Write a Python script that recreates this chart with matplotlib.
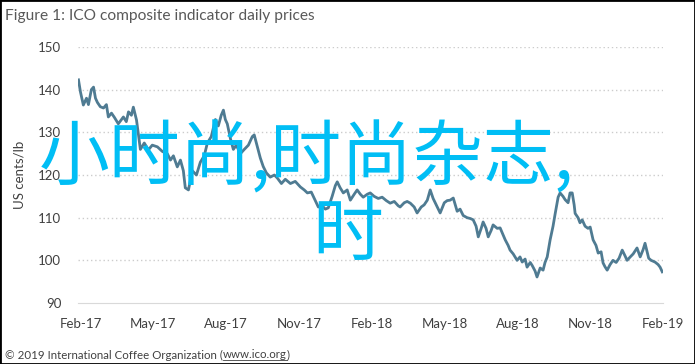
import matplotlib
matplotlib.use("Agg")
import matplotlib.pyplot as plt
from matplotlib.patches import Rectangle

# months since Feb-2017
months = [-0.08, 0.00, 0.12, 0.25, 0.33, 0.45, 0.54, 0.62, 0.70, 0.82, 0.95, 1.07,
          1.15, 1.28, 1.40, 1.56, 1.69, 1.77, 1.89, 1.98, 2.10, 2.18, 2.26, 2.31,
          2.39, 2.47, 2.63, 2.80, 2.96, 3.17, 3.38, 3.58, 3.71, 3.83, 3.99, 4.12,
          4.24, 4.32, 4.45, 4.61, 4.78, 4.94, 5.10, 5.23, 5.39, 5.56, 5.68, 5.80,
          5.89, 5.97, 6.05, 6.18, 6.30, 6.42, 6.59, 6.75, 6.92, 7.08, 7.16, 7.29,
          7.41, 7.53, 7.66, 7.82, 7.99, 8.11, 8.28, 8.44, 8.65, 8.85, 9.06, 9.22,
          9.35, 9.51, 9.67, 9.80, 9.92, 10.09, 10.21, 10.37, 10.50, 10.58, 10.70,
          10.83, 10.99, 11.12, 11.28, 11.40, 11.53, 11.65, 11.82, 11.94, 12.10,
          12.27, 12.43, 12.60, 12.76, 12.93, 13.09, 13.17, 13.34, 13.46, 13.59,
          13.75, 13.87, 14.04, 14.16, 14.29, 14.41, 14.53, 14.66, 14.82, 14.99,
          15.11, 15.23, 15.36, 15.52, 15.64, 15.77, 15.93, 16.06, 16.18, 16.30,
          16.39, 16.51, 16.59, 16.71, 16.80, 16.92, 17.00, 17.17, 17.29, 17.41,
          17.50, 17.62, 17.70, 17.83, 17.99, 18.11, 18.20, 18.32, 18.40, 18.53,
          18.61, 18.73, 18.81, 18.94, 19.06, 19.14, 19.23, 19.35, 19.47, 19.56,
          19.68, 19.76, 19.88, 19.97, 20.09, 20.17, 20.26, 20.34, 20.38, 20.50,
          20.58, 20.67, 20.79, 20.91, 21.00, 21.12, 21.24, 21.33, 21.45, 21.53,
          21.61, 21.70, 21.82, 21.94, 22.07, 22.19, 22.32, 22.44, 22.52, 22.65,
          22.77, 22.93, 23.06, 23.18, 23.26, 23.41, 23.51, 23.67, 23.80, 23.88,
          23.97]

prices = [142.3, 139.5, 136.4, 138.0, 136.5, 140.0, 140.6, 138.0, 137.0, 136.0,
          135.7, 136.5, 133.6, 134.5, 133.5, 132.0, 133.0, 133.6, 132.5, 134.8,
          134.0, 135.9, 134.0, 132.9, 129.5, 126.0, 127.5, 125.9, 127.0, 126.6,
          125.5, 125.0, 123.5, 124.5, 121.9, 123.5, 121.0, 117.0, 116.5, 121.0,
          120.0, 123.0, 124.5, 127.5, 129.0, 133.0, 131.5, 134.0, 135.2, 133.0,
          132.0, 128.5, 126.0, 127.0, 125.0, 126.0, 127.0, 129.0, 129.4, 126.6,
          124.0, 122.0, 120.5, 119.5, 120.0, 119.3, 118.0, 119.0, 118.0, 118.5,
          117.2, 116.5, 115.8, 116.0, 114.1, 112.5, 113.0, 112.0, 112.3, 115.0,
          117.5, 118.4, 117.0, 115.8, 116.5, 114.1, 115.5, 116.5, 115.5, 114.8,
          115.5, 115.8, 115.0, 114.5, 114.8, 114.0, 113.4, 113.8, 112.8, 112.5,
          113.5, 113.8, 113.4, 112.5, 111.1, 112.5, 113.0, 114.1, 116.5, 114.5,
          113.0, 111.1, 113.5, 114.0, 114.1, 114.6, 111.5, 112.0, 110.5, 110.0,
          109.8, 109.5, 108.0, 105.5, 107.5, 109.0, 107.5, 105.5, 107.0, 108.3,
          107.5, 107.6, 106.0, 104.8, 103.5, 102.4, 101.5, 100.0, 100.8, 99.6,
          100.3, 98.4, 99.5, 98.8, 97.5, 96.1, 98.2, 97.7, 99.5, 100.8,
          104.8, 108.0, 111.0, 114.8, 115.8, 115.0, 114.2, 113.5, 115.8, 115.8,
          113.0, 111.0, 110.0, 108.8, 109.5, 108.0, 107.5, 107.8, 104.8, 103.5,
          101.7, 102.0, 99.4, 98.5, 97.7, 99.0, 100.0, 99.5, 100.5, 102.4,
          101.0, 100.0, 100.8, 101.5, 102.9, 100.8, 102.5, 104.0, 100.5, 100.0,
          99.6, 99.0, 98.4, 97.3]

tick_pos = [0, 3, 6, 9, 12, 15, 18, 21, 24]
tick_labels = ["Feb-17", "May-17", "Aug-17", "Nov-17", "Feb-18",
               "May-18", "Aug-18", "Nov-18", "Feb-19"]
y_ticks = [90, 100, 110, 120, 130, 140, 150]

plt.rcParams['font.family'] = ['Lato', 'DejaVu Sans']

W, H = 695, 364
fig = plt.figure(figsize=(W / 100, H / 100), dpi=100)
ax = fig.add_axes([78 / W, 1 - 303 / H, 585 / W, 256 / H])

ax.plot(months, prices, color="#4f7b92", lw=2.0, zorder=3)
ax.set_xlim(-0.1, 24.0)
ax.set_ylim(90, 150)
ax.set_xticks(tick_pos)
ax.set_xticklabels(tick_labels)
ax.set_yticks(y_ticks)
for v in y_ticks[1:]:
    ax.axhline(v, color="#cccccc", lw=1.0, ls=(0, (1, 2)), zorder=1)
for s in ["top", "right", "left"]:
    ax.spines[s].set_visible(False)
ax.spines["bottom"].set_color("#d9d9d9")
ax.tick_params(length=0, colors="#404040", labelsize=9.5)
ax.tick_params(axis="y", pad=12)
ax.tick_params(axis="x", pad=11)
ax.set_ylabel("US cents/lb", fontsize=9.5, color="#404040", labelpad=9)

fig.text(5 / W, 1 - 16 / H, "Figure 1: ICO composite indicator daily prices",
         fontsize=11.2, color="#595959", va="center", ha="left")

# footer with underlined link
fig.canvas.draw()
r = fig.canvas.get_renderer()
foot_y = 1 - 355 / H
fs = 8.3
t1 = fig.text(5 / W, foot_y, "\u00a9 2019 International Coffee Organization (",
              fontsize=fs, color="#404040", va="center", ha="left")
bb = t1.get_window_extent(r)
t2 = fig.text(bb.x1 / W, foot_y, "www.ico.org", fontsize=fs, color="#404040",
              va="center", ha="left")
bb2 = t2.get_window_extent(r)
fig.add_artist(plt.Line2D([bb2.x0 / W, bb2.x1 / W], [(bb2.y0 + 1) / H] * 2,
                          color="#404040", lw=0.6))
fig.text(bb2.x1 / W, foot_y, ")", fontsize=fs, color="#404040",
         va="center", ha="left")

# overlay watermark text
cjk = ['Noto Sans CJK SC', 'DejaVu Sans']
fig.text(39 / W, 1 - 159 / H, "小时尚,时尚杂志,", fontsize=51, color="#00bef5",
         family=cjk, va="center", ha="left", zorder=10)
fig.text(348 / W, 1 - 234 / H, "时", fontsize=51, color="#00bef5",
         family=cjk, va="center", ha="center", zorder=10)

fig.add_artist(Rectangle((0, 0), 1, 1, transform=fig.transFigure, fill=False,
                         edgecolor="black", lw=2))

fig.savefig("out.png", dpi=100)
